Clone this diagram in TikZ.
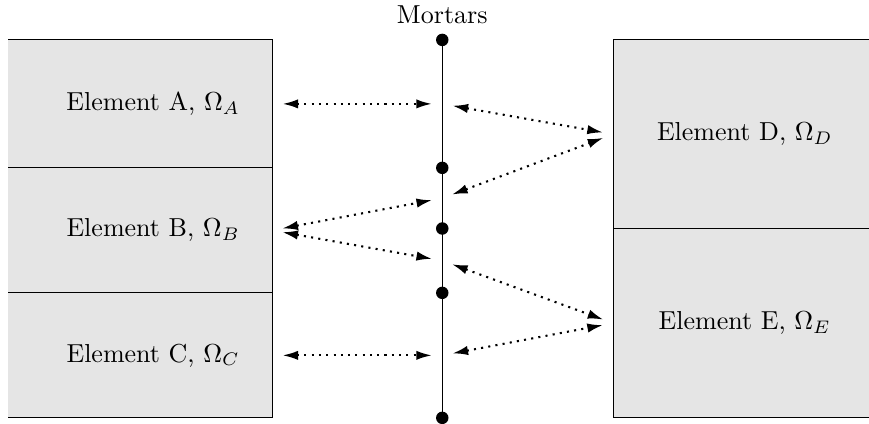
\documentclass[tikz,border=0pt]{standalone}
\usetikzlibrary{positioning,arrows.meta}
\begin{document}
\begin{tikzpicture}[
        punto/.style={circle, fill=black, inner sep=0pt, minimum size=4.8pt},
        freccia/.style={{Latex[length=6pt,width=3.6pt]}-{Latex[length=6pt,width=3.6pt]}, thick, dotted, shorten <=4pt, shorten >=4pt}
    ]
        % Definizioni
        \def\xsx{3.68}   % bordo destro degli elementi a sinistra
        \def\xm{5.98}    % asse dei mortar
        \def\xdx{8.29}   % bordo sinistro degli elementi a destra
        \def\xmax{11.75}
        \useasboundingbox (0,0) rectangle (\xmax,5.73);

        % Elementi a sinistra (A, B, C)
        \fill[gray!20] (0.11,0.08) rectangle (\xsx,5.19);
        \draw (0.11,5.19) -- (\xsx,5.19) -- (\xsx,0.08) -- (0.11,0.08);
        \foreach \y in {3.46,1.77} {
            \draw (0.11,\y) -- (\xsx,\y);
        }

        % Elementi a destra (D, E)
        \fill[gray!20] (\xdx,0.08) rectangle (\xmax,5.19);
        \draw (\xmax,5.19) -- (\xdx,5.19) -- (\xdx,0.08) -- (\xmax,0.08);
        \draw (\xdx,2.64) -- (\xmax,2.64);

        % Etichette degli elementi
        \node (A) at (2.07,4.325) {Element A, $\Omega_A$};
        \node (B) at (2.07,2.615) {Element B, $\Omega_B$};
        \node (C) at (2.07,0.925) {Element C, $\Omega_C$};
        \node (D) at (10.07,3.915) {Element D, $\Omega_D$};
        \node (E) at (10.07,1.36) {Element E, $\Omega_E$};

        % Bordi delle interfacce
        \coordinate (Ae) at (\xsx,4.325);
        \coordinate (Be) at (\xsx,2.615);
        \coordinate (Ce) at (\xsx,0.925);
        \coordinate (Dw) at (\xdx,3.915);
        \coordinate (Ew) at (\xdx,1.36);

        % --- Mortar ---
        \foreach \n/\y in {0/5.19,1/3.46,2/2.64,3/1.77,4/0.08} {
            \node[punto] (d\n) at (\xm,\y) {};
        }
        \draw (d0.center) -- (d4.center);
        \node[above=0pt of d0] (mortars) {Mortars};

        % Punti medi dei segmenti
        \coordinate (m1) at (\xm,4.325);
        \coordinate (m2) at (\xm,3.05);
        \coordinate (m3) at (\xm,2.205);
        \coordinate (m4) at (\xm,0.925);

        % Frecce elemento - mortar
        \draw[freccia] (Ae) -- (m1);
        \draw[freccia] (Be) -- (m2);
        \draw[freccia] (Be) -- (m3);
        \draw[freccia] (Ce) -- (m4);
        \draw[freccia] (m1) -- (Dw);
        \draw[freccia] (m2) -- (Dw);
        \draw[freccia] (m3) -- (Ew);
        \draw[freccia] (m4) -- (Ew);

    \end{tikzpicture}
\end{document}
